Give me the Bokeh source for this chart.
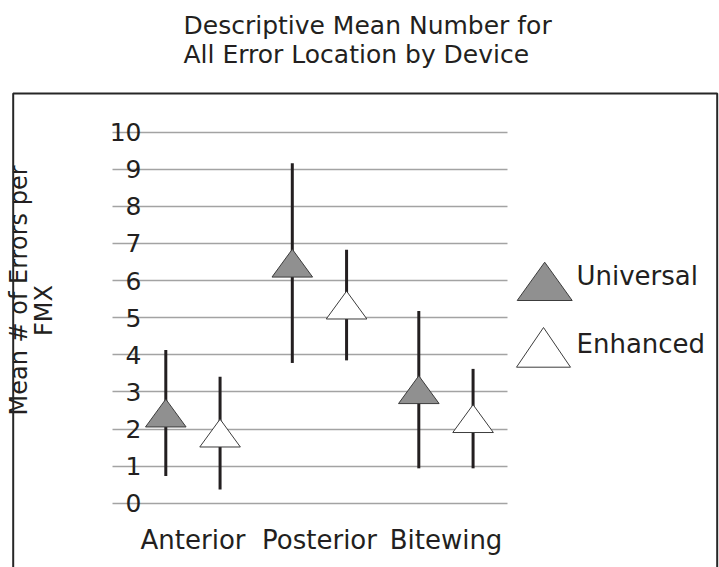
import numpy as np
from bokeh.plotting import figure
from bokeh.models import (ColumnDataSource, Range1d, FixedTicker, BoxAnnotation,
                          PolyAnnotation, Label)
from bokeh.transform import dodge
from bokeh.embed import file_html
from bokeh.resources import INLINE

# ---- data ----
categories = ["Anterior", "Posterior", "Bitewing"]
series_names = ["Universal", "Enhanced"]
universal_mean = [2.43, 6.47, 3.06]
universal_low = [0.73, 3.78, 0.94]
universal_high = [4.13, 9.16, 5.18]
enhanced_mean = [1.89, 5.34, 2.28]
enhanced_low = [0.37, 3.85, 0.94]
enhanced_high = [3.41, 6.83, 3.62]
y_ticks = [0, 1, 2, 3, 4, 5, 6, 7, 8, 9, 10]
title_lines = ["Descriptive Mean Number for", "All Error Location by Device"]
y_title_lines = ["Mean # of Errors per", "FMX"]

# ---- styles ----
FONT = "DejaVu Sans"
TXT = "#231f20"
GRID = "#a3a3a3"
U_FILL = "#909090"
EDGE = "#3c3c3c"
U_OFF = -0.215          # dodge of the Universal series within a category
E_OFF = 0.214           # dodge of the Enhanced series
TRI_HW = 0.1605         # triangle half width (x units)
TRI_HH = 0.375          # triangle half height (y units)
GRID_X = (-0.636, 2.486)

idx = np.arange(len(categories))


def tri_source(offset, mean, low, high):
    xc = idx + offset
    xs = [[x - TRI_HW, x + TRI_HW, x] for x in xc]
    ys = [[m - TRI_HH, m - TRI_HH, m + TRI_HH] for m in mean]
    return ColumnDataSource(dict(idx=idx, mean=mean, low=low, high=high, xs=xs, ys=ys))


src_u = tri_source(U_OFF, universal_mean, universal_low, universal_high)
src_e = tri_source(E_OFF, enhanced_mean, enhanced_low, enhanced_high)

p = figure(width=719, height=567, output_backend="svg", toolbar_location=None,
           x_range=Range1d(-1.5217, 4.162), y_range=Range1d(-1.733, 11.501),
           min_border_left=0, min_border_right=0, min_border_top=76,
           min_border_bottom=0)
p.outline_line_color = None
p.background_fill_color = "white"
p.border_fill_color = "white"

p.title.text = "\n".join(title_lines)
p.title.align = "left"
p.title.offset = 183
p.title.standoff = 16
p.title.text_font = FONT
p.title.text_font_size = "25px"
p.title.text_font_style = "normal"
p.title.text_color = TXT

# x axis (categories)
p.xaxis.ticker = FixedTicker(ticks=[float(i) for i in idx])
p.xaxis.major_label_overrides = {int(i): c for i, c in zip(idx, categories)}
p.xaxis.axis_line_color = None
p.xaxis.major_tick_line_color = None
p.xaxis.minor_tick_line_color = None
p.xaxis.major_tick_out = 0
p.xaxis.major_label_standoff = -43
p.xaxis.major_label_text_font = FONT
p.xaxis.major_label_text_font_size = "26px"
p.xaxis.major_label_text_color = TXT
p.xgrid.grid_line_color = None

# y axis
p.yaxis.ticker = FixedTicker(ticks=y_ticks)
p.yaxis.axis_line_color = None
p.yaxis.major_tick_line_color = None
p.yaxis.minor_tick_line_color = None
p.yaxis.major_tick_out = 0
p.yaxis.major_label_standoff = -141
p.yaxis.major_label_text_font = FONT
p.yaxis.major_label_text_font_size = "25px"
p.yaxis.major_label_text_color = TXT

try:
    p.ygrid.cross_bounds = GRID_X
    p.ygrid.grid_line_color = GRID
    p.ygrid.grid_line_width = 1.5
except Exception:
    p.ygrid.visible = False
    p.segment(x0=GRID_X[0], x1=GRID_X[1], y0=y_ticks, y1=y_ticks,
              line_color=GRID, line_width=1.5)

# y axis title (two centred lines, rotated)
p.add_layout(Label(x=18, y=277, x_units="screen", y_units="screen", angle=np.pi / 2,
                   text=y_title_lines[0], text_align="center", text_baseline="middle",
                   text_font=FONT, text_font_size="24px", text_color=TXT))
p.add_layout(Label(x=43, y=257, x_units="screen", y_units="screen", angle=np.pi / 2,
                   text=y_title_lines[1], text_align="center", text_baseline="middle",
                   text_font=FONT, text_font_size="24px", text_color=TXT))

# error bars
p.segment(x0=dodge("idx", U_OFF), x1=dodge("idx", U_OFF), y0="low", y1="high",
          line_width=3, line_color=TXT, source=src_u)
p.segment(x0=dodge("idx", E_OFF), x1=dodge("idx", E_OFF), y0="low", y1="high",
          line_width=3, line_color=TXT, source=src_e)

# mean markers (triangles)
p.patches(xs="xs", ys="ys", fill_color=U_FILL, line_color=EDGE, line_width=1, source=src_u)
p.patches(xs="xs", ys="ys", fill_color="white", line_color=EDGE, line_width=1, source=src_e)

# legend (triangle keys + labels)
p.add_layout(PolyAnnotation(xs=[516.7, 571.7, 544.2], ys=[267, 267, 305.3],
                            xs_units="screen", ys_units="screen",
                            fill_color=U_FILL, fill_alpha=1, line_color=EDGE,
                            line_alpha=1, line_width=1))
p.add_layout(PolyAnnotation(xs=[516, 570, 543], ys=[200.3, 200.3, 240],
                            xs_units="screen", ys_units="screen",
                            fill_color="white", fill_alpha=1, line_color=EDGE,
                            line_alpha=1, line_width=1))
p.add_layout(Label(x=576, y=291.5, x_units="screen", y_units="screen",
                   text=series_names[0], text_baseline="middle",
                   text_font=FONT, text_font_size="26px", text_color=TXT))
p.add_layout(Label(x=576, y=224, x_units="screen", y_units="screen",
                   text=series_names[1], text_baseline="middle",
                   text_font=FONT, text_font_size="26px", text_color=TXT))

# chart-area frame (cut off at the bottom of the page)
p.add_layout(BoxAnnotation(left=12.7, right=716.7, top=474, bottom=-30,
                           left_units="screen", right_units="screen",
                           top_units="screen", bottom_units="screen",
                           fill_alpha=0, fill_color=None, line_color="#262626",
                           line_alpha=1, line_width=2))

open("out.html", "w").write(file_html(p, INLINE))
